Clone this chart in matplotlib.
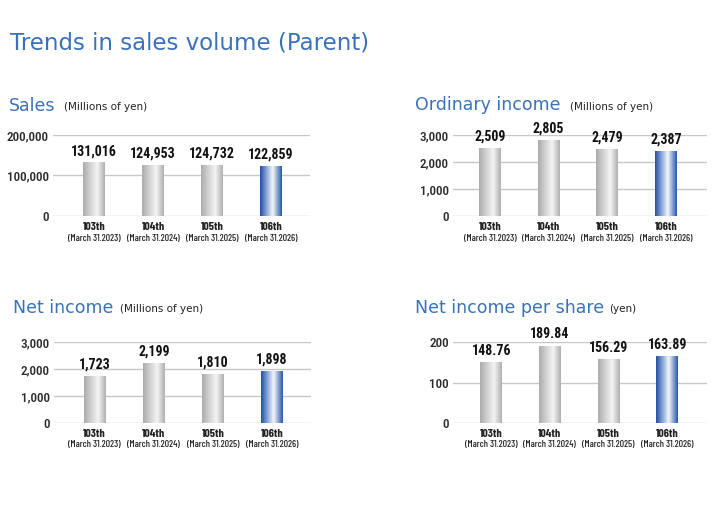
import numpy as np
import matplotlib.pyplot as plt
from matplotlib.colors import LinearSegmentedColormap
from matplotlib.ticker import FuncFormatter
from matplotlib.transforms import blended_transform_factory

# データ
terms = ["103th", "104th", "105th", "106th"]
dates = ["(March 31.2023)", "(March 31.2024)", "(March 31.2025)", "(March 31.2026)"]
sales = [131016, 124953, 124732, 122859]
ordinary_income = [2509, 2805, 2479, 2387]
net_income = [1723, 2199, 1810, 1898]
eps = [148.76, 189.84, 156.29, 163.89]

W, H = 720, 517
fig = plt.figure(figsize=(W / 100, H / 100), dpi=100)

BLUE = "#3a72ba"
NUMF = ["Roboto Condensed", "Archivo Narrow", "DejaVu Sans"]
NARROW = ["Barlow Condensed", "DejaVu Sans"]

gray_cmap = LinearSegmentedColormap.from_list(
    "g", [(0, "#acacac"), (0.35, "#d4d4d4"), (0.65, "#f4f4f4"), (1, "#b0b0b0")])
blue_cmap = LinearSegmentedColormap.from_list(
    "b", [(0, "#2350a2"), (0.3, "#8aa6d6"), (0.58, "#f4f7fc"), (1, "#2a5aa8")])
grad = np.linspace(0, 1, 64).reshape(1, -1)


def px_text(x, y, s, **kw):
    fig.text(x / W, 1 - y / H, s, va="baseline", **kw)


def panel(left, right, top, bottom, values, ylim, ticks, fmt, xlim):
    ax = fig.add_axes([left / W, 1 - bottom / H, (right - left) / W, (bottom - top) / H])
    x = np.arange(len(values))
    bw = 0.37
    for i, v in enumerate(values):
        cmap = blue_cmap if i == len(values) - 1 else gray_cmap
        ax.imshow(grad, cmap=cmap, aspect="auto", zorder=3,
                  extent=(x[i] - bw / 2, x[i] + bw / 2, 0, v))
        ax.annotate(fmt(v), (x[i], v), xytext=(0, 3.5), textcoords="offset points",
                    ha="center", va="bottom", fontsize=10, fontweight="bold",
                    family=NUMF, color="#111111", annotation_clip=False)
    ax.set_xlim(*xlim)
    ax.set_ylim(*ylim)
    ax.set_yticks(ticks)
    ax.yaxis.set_major_formatter(FuncFormatter(lambda t, p: f"{int(t):,}"))
    ax.grid(axis="y", color="#c8c8c8", lw=1, zorder=0)
    ax.set_axisbelow(True)
    for s in ax.spines.values():
        s.set_visible(False)
    ax.tick_params(length=0, labelsize=9.5, labelcolor="#2a2a2a", pad=3)
    ax.set_xticks([])
    for lab in ax.get_yticklabels():
        lab.set_family(NUMF)
        lab.set_fontweight("medium")
    tr = blended_transform_factory(ax.transData, ax.transAxes)
    h = bottom - top
    for i in x:
        ax.text(i, -11 / h, terms[i], transform=tr, ha="center", va="center",
                fontsize=8.5, fontweight="bold", family=NARROW, color="#222222")
        ax.text(i, -22 / h, dates[i], transform=tr, ha="center", va="center",
                fontsize=7, fontweight="medium", family=NARROW, color="#222222")
    return ax


px_text(10, 50, "Trends in sales volume (Parent)", fontsize=16.5, color=BLUE)

px_text(9, 111, "Sales", fontsize=12.5, color=BLUE)
px_text(64, 110, "(Millions of yen)", fontsize=7.5, color="#222222")
px_text(415, 110, "Ordinary income", fontsize=12.5, color=BLUE)
px_text(570, 110, "(Millions of yen)", fontsize=7.5, color="#222222")
px_text(13, 313, "Net income", fontsize=12.5, color=BLUE)
px_text(120, 312, "(Millions of yen)", fontsize=7.5, color="#222222")
px_text(415, 313, "Net income per share", fontsize=12.5, color=BLUE)
px_text(609, 312, "(yen)", fontsize=7.5, color="#222222")

panel(53, 310, 135, 216, sales, (0, 200000), [0, 100000, 200000],
      lambda v: f"{v:,}", (-0.7, 3.66))
panel(453, 707, 135, 216, ordinary_income, (0, 3000), [0, 1000, 2000, 3000],
      lambda v: f"{v:,}", (-0.63, 3.70))
panel(54, 311, 342, 423, net_income, (0, 3000), [0, 1000, 2000, 3000],
      lambda v: f"{v:,}", (-0.69, 3.66))
panel(453, 707, 342, 423, eps, (0, 200), [0, 100, 200],
      lambda v: f"{v:.2f}", (-0.65, 3.68))

plt.savefig("out.png", dpi=100)
